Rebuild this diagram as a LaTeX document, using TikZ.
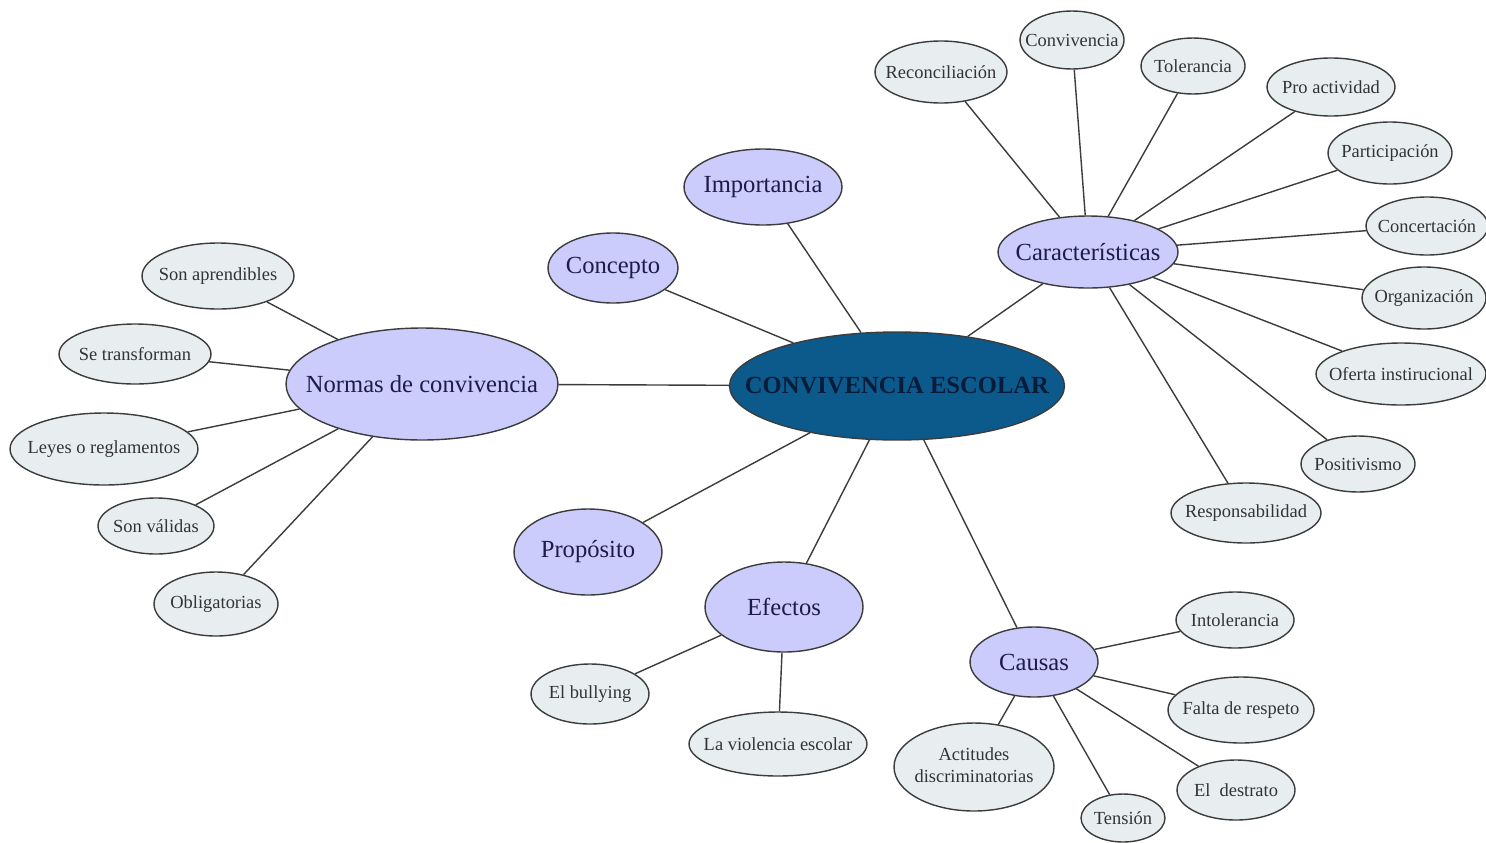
\documentclass[tikz,border=0pt]{standalone}
\usepackage{fontspec}
\setmainfont{Liberation Serif}
\usepackage{tikz}
\usetikzlibrary{shapes.geometric}

\definecolor{hubblue}{RGB}{12,90,140}
\definecolor{hubtext}{RGB}{8,28,58}
\definecolor{lavender}{RGB}{204,204,252}
\definecolor{pale}{RGB}{232,238,240}
\definecolor{linegray}{RGB}{60,60,60}
\definecolor{inkblue}{RGB}{28,28,70}

\newcommand{\tight}[1]{\makebox[0pt]{#1}}

\tikzset{
    sz/.style 2 args={minimum width=#1cm, minimum height=#2cm},
    hub/.style={shape=ellipse, draw=linegray, line width=0.8pt, fill=hubblue, inner sep=0pt,
        text=hubtext, font=\fontsize{14}{16}\selectfont\bfseries},
    topic/.style={shape=ellipse, draw=linegray, line width=0.8pt, fill=lavender, inner sep=0pt,
        text=inkblue, font=\fontsize{14}{16}\selectfont},
    leaf/.style={shape=ellipse, draw=linegray, line width=0.8pt, fill=pale, inner sep=0pt,
        text=black!80, font=\fontsize{10.5}{12.5}\selectfont},
    link/.style={draw=linegray, line width=0.8pt}}

\begin{document}
\begin{tikzpicture}[x=0.02cm, y=-0.02cm]

        \useasboundingbox (0,0) rectangle (1486,842);

            \node[hub, sz={6.7}{2.16}] (CE) at (897,386) {\tight{CONVIVENCIA ESCOLAR}};

            \node[topic, sz={3.16}{1.52}] (IMP) at (763,187) {\tight{Importancia}};
            \node[topic, sz={2.6}{1.4}] (CON) at (613,268) {\tight{Concepto}};
            \node[topic, sz={5.44}{2.24}] (NOR) at (422,384) {\tight{Normas de convivencia}};
            \node[topic, sz={2.96}{1.72}] (PRO) at (588,552) {\tight{Propósito}};
            \node[topic, sz={3.16}{1.8}] (EFE) at (784,607) {\tight{Efectos}};
            \node[topic, sz={3.6}{1.44}] (CAR) at (1088,252) {\tight{Características}};
            \node[topic, sz={2.56}{1.4}] (CAU) at (1034,662) {\tight{Causas}};

            \node[leaf, sz={2.64}{1.24}] (C1) at (941,72) {\tight{Reconciliación}};
            \node[leaf, sz={2.08}{1.16}] (C2) at (1072,40) {\tight{Convivencia}};
            \node[leaf, sz={2.08}{1.12}] (C3) at (1193,66) {\tight{Tolerancia}};
            \node[leaf, sz={2.56}{1.16}] (C4) at (1331,87) {\tight{Pro actividad}};
            \node[leaf, sz={2.48}{1.24}] (C5) at (1390,153) {\tight{Participación}};
            \node[leaf, sz={2.44}{1.16}] (C6) at (1427,226) {\tight{Concertación}};
            \node[leaf, sz={2.48}{1.24}] (C7) at (1424,298) {\tight{Organización}};
            \node[leaf, sz={3.4}{1.24}] (C8) at (1401,374) {\tight{Oferta instirucional}};
            \node[leaf, sz={2.28}{1.12}] (C9) at (1358,464) {\tight{Positivismo}};
            \node[leaf, sz={3.0}{1.2}] (C10) at (1246,513) {\tight{Responsabilidad}};

            \node[leaf, sz={3.04}{1.32}] (N1) at (218,276) {\tight{Son aprendibles}};
            \node[leaf, sz={3.04}{1.2}] (N2) at (135,354) {\tight{Se transforman}};
            \node[leaf, sz={3.76}{1.44}] (N3) at (104,449) {\tight{Leyes o reglamentos}};
            \node[leaf, sz={2.32}{1.12}] (N4) at (156,526) {\tight{Son válidas}};
            \node[leaf, sz={2.48}{1.28}] (N5) at (216,604) {\tight{Obligatorias}};

            \node[leaf, sz={2.36}{1.2}] (E1) at (590,694) {\tight{El bullying}};
            \node[leaf, sz={3.56}{1.28}] (E2) at (778,744) {\tight{La violencia escolar}};

            \node[leaf, sz={2.36}{1.12}] (K1) at (1235,620) {\tight{Intolerancia}};
            \node[leaf, sz={2.92}{1.32}] (K2) at (1241,710) {\tight{Falta de respeto}};
            \node[leaf, sz={2.36}{1.2}] (K3) at (1236,790) {\tight{El\ \ destrato}};
            \node[leaf, sz={1.68}{0.96}] (K4) at (1123,818) {\tight{Tensión}};
            \node[leaf, sz={3.2}{1.76}] (K5) at (974,767)
                {\tight{\begin{tabular}{@{}c@{}}Actitudes\\discriminatorias\end{tabular}}};

            \draw[link] (CE) -- (IMP);
            \draw[link] (CE) -- (CON);
            \draw[link] (CE) -- (NOR);
            \draw[link] (CE) -- (PRO);
            \draw[link] (CE) -- (EFE);
            \draw[link] (CE) -- (CAR);
            \draw[link] (CE) -- (CAU);

            \foreach \leafnode in {C1,C2,C3,C4,C5,C6,C7,C8,C9,C10}
                \draw[link] (CAR) -- (\leafnode);
            \foreach \leafnode in {N1,N2,N3,N4,N5}
                \draw[link] (NOR) -- (\leafnode);
            \foreach \leafnode in {E1,E2}
                \draw[link] (EFE) -- (\leafnode);
            \foreach \leafnode in {K1,K2,K3,K4,K5}
                \draw[link] (CAU) -- (\leafnode);

        \end{tikzpicture}
\end{document}
